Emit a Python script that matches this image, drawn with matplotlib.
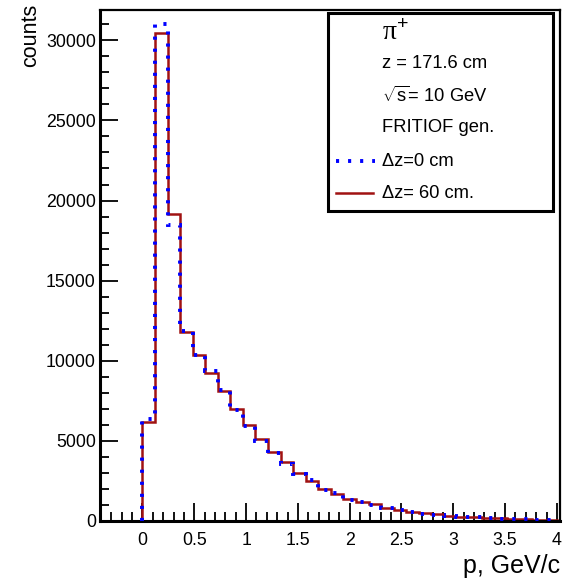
import numpy as np
import matplotlib
matplotlib.use("Agg")
import matplotlib.pyplot as plt
from matplotlib.ticker import FixedLocator, MultipleLocator
from matplotlib.patches import Rectangle
from matplotlib.lines import Line2D

# ---- data ----
bin_edges = np.linspace(0.0, 4.0, 34)
counts_dz60 = [6150, 30450, 19150, 11800, 10330, 9250, 8125, 6980, 6000, 5090,
               4300, 3640, 3000, 2480, 1990, 1670, 1360, 1170, 1020, 800,
               680, 550, 470, 390, 320, 260, 210, 170, 140, 110, 90, 70, 55]
counts_dz0 = [6350, 31050, 18450, 11850, 10350, 9350, 8150, 6900, 5900, 4950,
              4200, 3550, 2900, 2550, 1900, 1700, 1300, 1150, 950, 780,
              650, 560, 440, 380, 300, 250, 200, 160, 130, 100, 80, 60, 50]
xticks = [0, 0.5, 1, 1.5, 2, 2.5, 3, 3.5, 4]
xticklabels = ["0", "0.5", "1", "1.5", "2", "2.5", "3", "3.5", "4"]
yticks = [0, 5000, 10000, 15000, 20000, 25000, 30000]
yticklabels = ["0", "5000", "10000", "15000", "20000", "25000", "30000"]
legend_lines = ["z = 171.6 cm", r"$\sqrt{\mathrm{s}}$= 10 GeV", "FRITIOF gen."]
label_dz0 = "Δz=0 cm"
label_dz60 = "Δz= 60 cm."

plt.rcParams['font.family'] = ['Liberation Sans', 'DejaVu Sans']
plt.rcParams['mathtext.fontset'] = 'custom'
plt.rcParams['mathtext.rm'] = 'Liberation Sans'
plt.rcParams['mathtext.it'] = 'Liberation Sans:italic'

W, H = 564, 586
fig = plt.figure(figsize=(W / 100, H / 100), dpi=100)
ax = fig.add_axes([100 / W, 1 - 520.7 / H, 460 / W, (520.7 - 10) / H])

red = '#a01212'
blue = '#0000ff'
ax.stairs(counts_dz60, bin_edges, baseline=0, color=red, lw=1.8, zorder=2)
ax.stairs(counts_dz0, bin_edges, baseline=0, color=blue, lw=2.8,
          linestyle=(0, (0.8, 2.3)), zorder=3)

ax.set_xlim(-0.41, 4.03)
ax.set_ylim(0, 31900)

ax.xaxis.set_major_locator(FixedLocator(xticks))
ax.set_xticklabels(xticklabels)
ax.xaxis.set_minor_locator(MultipleLocator(0.1))
ax.yaxis.set_major_locator(FixedLocator(yticks))
ax.set_yticklabels(yticklabels)
ax.yaxis.set_minor_locator(MultipleLocator(1000))

ax.tick_params(which='both', direction='in', top=False, right=False,
               width=1.3, labelsize=12.8, colors='black')
ax.tick_params(which='major', length=13)
ax.tick_params(which='minor', length=6.5)
ax.tick_params(axis='x', pad=8)
ax.tick_params(axis='y', pad=3)
for s in ax.spines.values():
    s.set_linewidth(1.6)
ax.spines['left'].set_linewidth(2.2)
ax.spines['bottom'].set_linewidth(2.2)

fig.text(31 / W, 1 - 4 / H, "counts", rotation=90, ha='center', va='top', fontsize=15.5)
fig.text(560 / W, 1 - 566 / H, "p, GeV/c", ha='right', va='center', fontsize=18)

# legend box
fig.patches.append(Rectangle((327.7 / W, 1 - 210.7 / H), (553 - 327.7) / W,
                             (210.7 - 13.3) / H, transform=fig.transFigure,
                             facecolor='white', edgecolor='black', lw=2.2, zorder=5))
tx = 382 / W
fig.text(tx, 1 - 33 / H, r"π$^{+}$", ha='left', va='center', fontsize=20,
         family=['Liberation Serif', 'DejaVu Serif'], zorder=6)
for yy, t in zip([63, 96, 128], legend_lines):
    fig.text(tx, 1 - yy / H, t, ha='left', va='center', fontsize=13.2, zorder=6)
fig.text(tx, 1 - 161 / H, label_dz0, ha='left', va='center', fontsize=13.2, zorder=6)
fig.text(tx, 1 - 193 / H, label_dz60, ha='left', va='center', fontsize=13.2, zorder=6)
fig.lines.append(Line2D([336 / W, 375 / W], [1 - 161 / H, 1 - 161 / H],
                        transform=fig.transFigure, color=blue, lw=2.8,
                        linestyle=(0, (0.8, 2.3)), zorder=6))
fig.lines.append(Line2D([336 / W, 373 / W], [1 - 193 / H, 1 - 193 / H],
                        transform=fig.transFigure, color=red, lw=1.8, zorder=6))

fig.savefig("out.png", dpi=100)
